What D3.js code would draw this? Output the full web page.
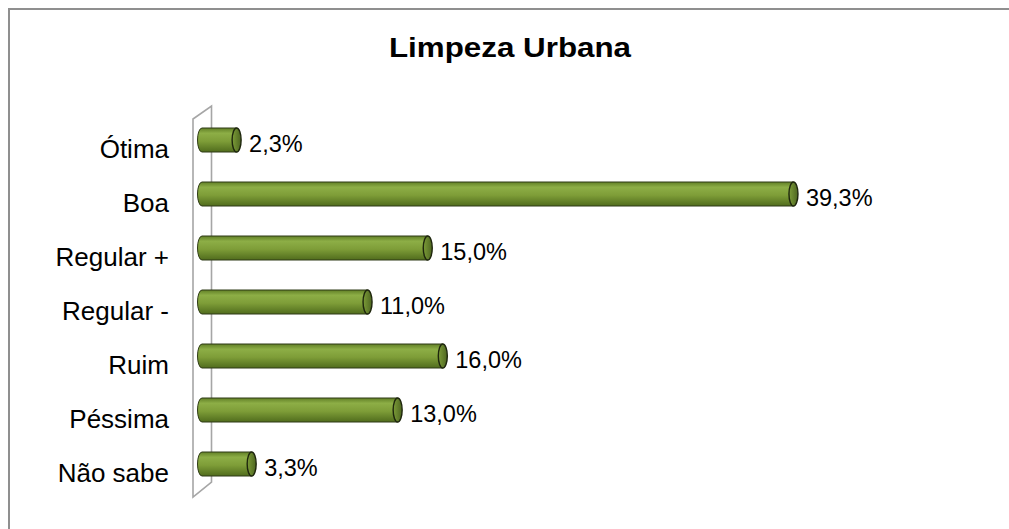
<!DOCTYPE html>
<meta charset="utf-8">
<style>
  body { margin: 0; background: #fff; }
  text { font-family: "Liberation Sans", Arial, sans-serif; fill: #000; }
</style>
<svg width="1009" height="529"></svg>
<script src="https://cdn.jsdelivr.net/npm/d3@7"></script>
<script>

var categories = ["Ótima", "Boa", "Regular +", "Regular -", "Ruim", "Péssima", "Não sabe"];
var values = [2.3, 39.3, 15.0, 11.0, 16.0, 13.0, 3.3];
var valueLabels = ["2,3%", "39,3%", "15,0%", "11,0%", "16,0%", "13,0%", "3,3%"];

var svg = d3.select("svg");

/*
 * Outer chart frame (runs off the right and bottom of the picture).
 */
svg.append("rect")
    .attr("x", 9).attr("y", 9)
    .attr("width", 1100).attr("height", 600)
    .attr("fill", "none")
    .attr("stroke", "#8f8f8f")
    .attr("stroke-width", 2);

svg.append("text")
    .attr("x", 510).attr("y", 57)
    .attr("text-anchor", "middle")
    .style("font-weight", "bold")
    .style("font-size", "28px")
    .attr("transform", "translate(510,0) scale(1.12,1) translate(-510,0)")
    .text("Limpeza Urbana");

/*
 * Scales: value -> cylinder end centre, category -> band.
 */
var x = d3.scaleLinear().domain([0, 45]).range([202, 202 + 45 * 15.05]);
var y = d3.scaleBand().domain(categories).range([113, 491]).padding(0);

var barH = 24, rx = 4.5;

/*
 * 3D wall behind the bars.
 */
svg.append("path")
    .attr("d", "M193,497 L193,119 L211.5,106 L211.5,482 Z")
    .attr("fill", "none")
    .attr("stroke", "#a6a6a6")
    .attr("stroke-width", 1.6);

var defs = svg.append("defs");
var grad = defs.append("linearGradient")
    .attr("id", "body").attr("x1", 0).attr("y1", 0).attr("x2", 0).attr("y2", 1);
grad.append("stop").attr("offset", "0%").attr("stop-color", "#617f26");
grad.append("stop").attr("offset", "22%").attr("stop-color", "#8dae46");
grad.append("stop").attr("offset", "55%").attr("stop-color", "#7e9d38");
grad.append("stop").attr("offset", "100%").attr("stop-color", "#506c1d");

var capGrad = defs.append("linearGradient")
    .attr("id", "cap").attr("x1", 0).attr("y1", 0).attr("x2", 1).attr("y2", 0);
capGrad.append("stop").attr("offset", "0%").attr("stop-color", "#7c9c38");
capGrad.append("stop").attr("offset", "100%").attr("stop-color", "#4d6520");

var bars = svg.selectAll(".bar")
    .data(values)
    .enter().append("g")
      .attr("class", "bar");

// cylinder body
bars.append("path")
    .attr("fill", "url(#body)")
    .attr("stroke", "#2f3b16")
    .attr("stroke-width", 1)
    .attr("d", function(d, i) {
      var c = y(categories[i]) + y.bandwidth() / 2,
          x0 = x(0), x1 = x(d), t = c - barH / 2, b = c + barH / 2;
      return "M" + x1 + "," + t + " L" + x0 + "," + t +
             " A" + rx + "," + (barH / 2) + " 0 0 0 " + x0 + "," + b +
             " L" + x1 + "," + b + " Z";
    });

// end cap
bars.append("ellipse")
    .attr("cx", function(d) { return x(d); })
    .attr("cy", function(d, i) { return y(categories[i]) + y.bandwidth() / 2; })
    .attr("rx", rx)
    .attr("ry", barH / 2)
    .attr("fill", "url(#cap)")
    .attr("stroke", "#1e260d")
    .attr("stroke-width", 1.4);

// value labels
bars.append("text")
    .attr("x", function(d) { return x(d) + rx + 8; })
    .attr("y", function(d, i) { return y(categories[i]) + y.bandwidth() / 2 + 12; })
    .style("font-size", "23.5px")
    .text(function(d, i) { return valueLabels[i]; });

// category labels
svg.selectAll(".cat")
    .data(categories)
    .enter().append("text")
      .attr("class", "cat")
      .attr("x", 169)
      .attr("y", function(d) { return y(d) + y.bandwidth() / 2 + 17.5; })
      .attr("text-anchor", "end")
      .style("font-size", "26px")
      .text(function(d) { return d; });
</script>
